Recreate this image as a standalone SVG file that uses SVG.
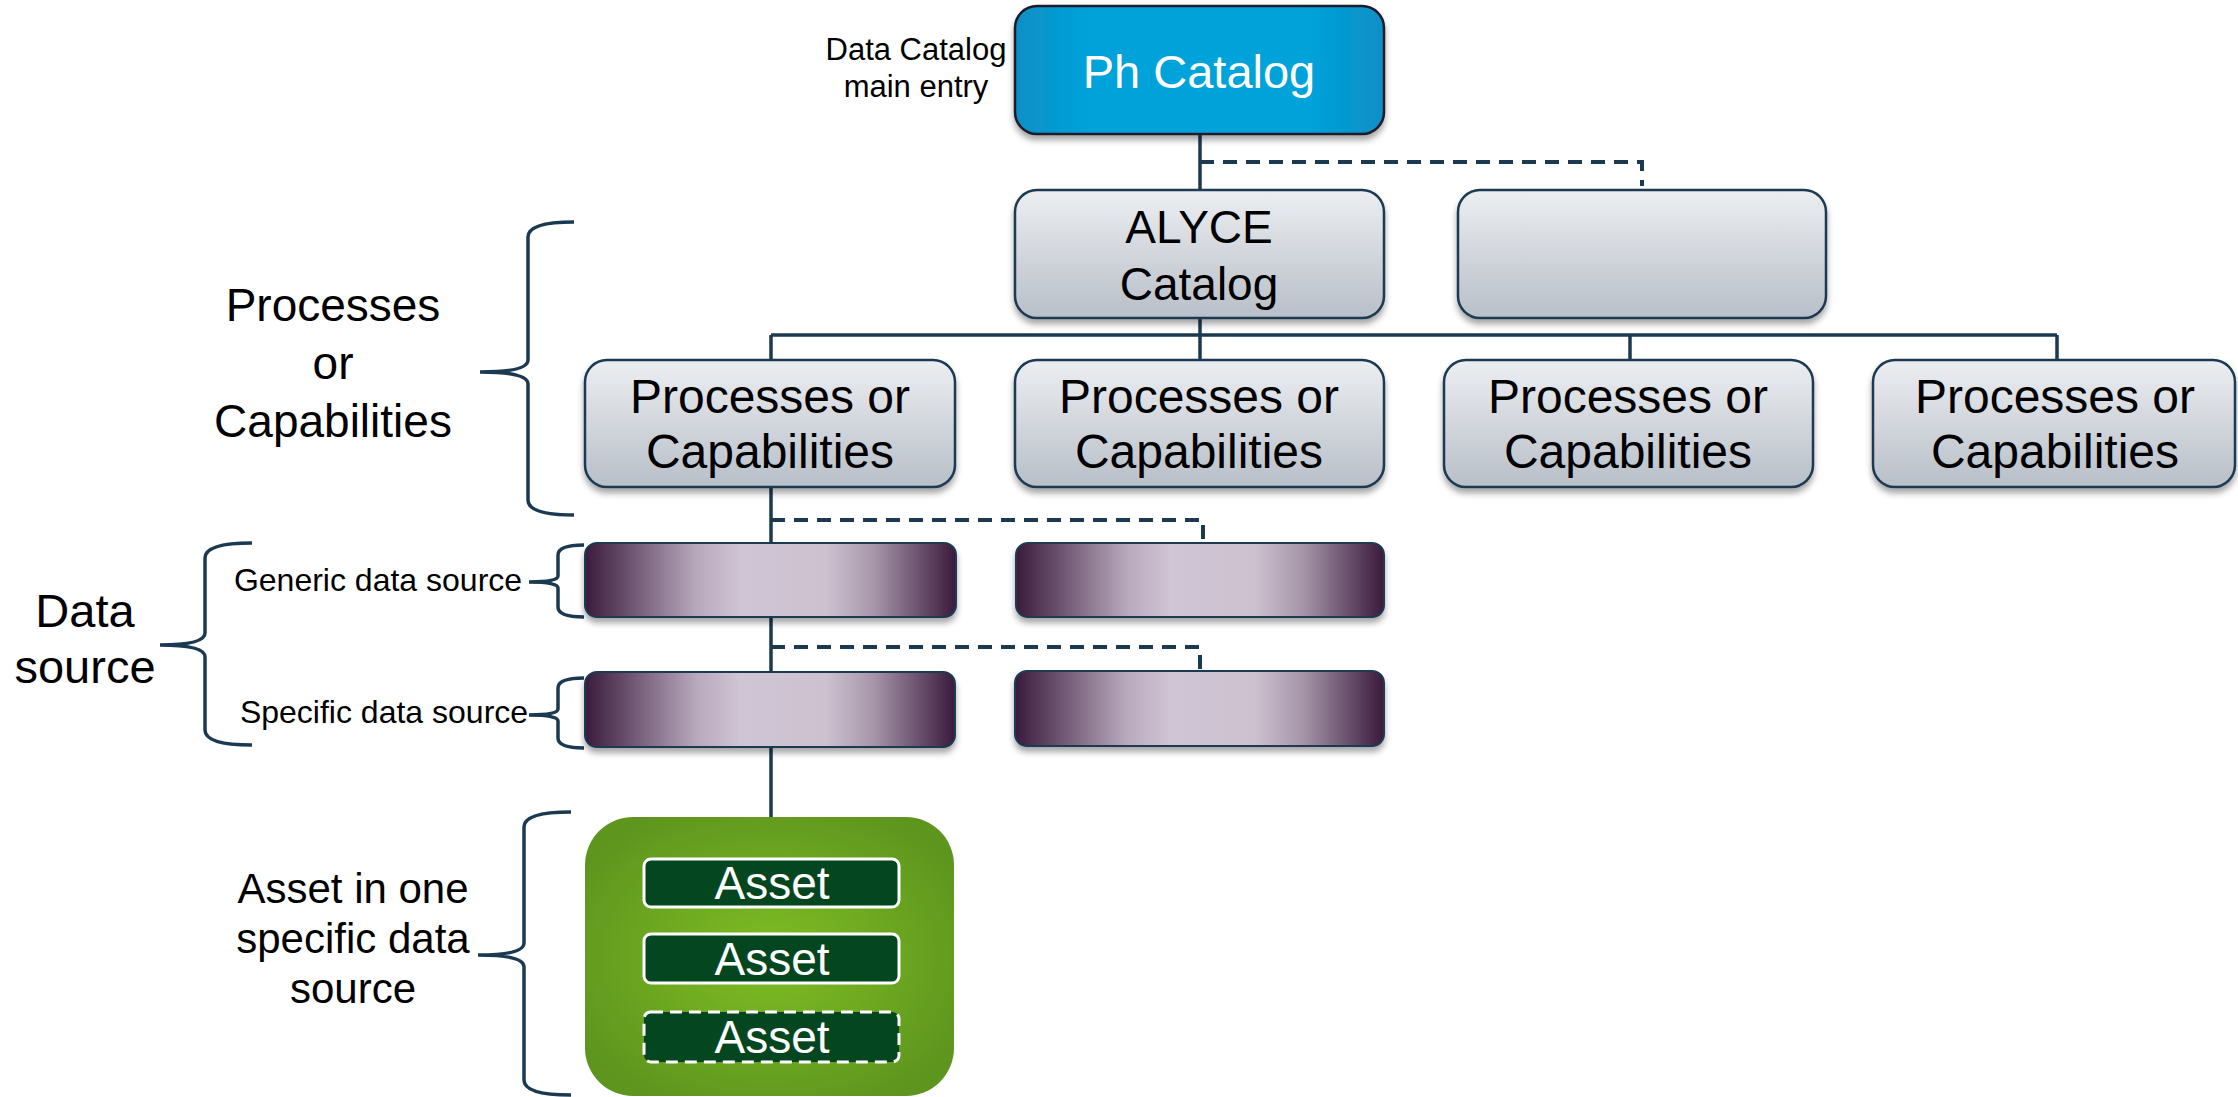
<svg xmlns="http://www.w3.org/2000/svg" width="2238" height="1097" viewBox="0 0 2238 1097">
<defs>
<linearGradient id="gGray" x1="0" y1="0" x2="0" y2="1"><stop offset="0" stop-color="#eceef1"/><stop offset="1" stop-color="#b8bfc8"/></linearGradient>
<linearGradient id="gBlue" x1="0" y1="0" x2="1" y2="0"><stop offset="0" stop-color="#0a8fc6"/><stop offset="0.2" stop-color="#02a2da"/><stop offset="0.8" stop-color="#02a2da"/><stop offset="1" stop-color="#0a8fc6"/></linearGradient>
<linearGradient id="gPurple" x1="0" y1="0" x2="1" y2="0"><stop offset="0" stop-color="#3a1a3c"/><stop offset="0.3" stop-color="#b8a8bc"/><stop offset="0.42" stop-color="#d0c5d4"/><stop offset="0.65" stop-color="#cdc1d0"/><stop offset="0.78" stop-color="#a695a9"/><stop offset="1" stop-color="#3a1a3c"/></linearGradient>
<radialGradient id="gGreen" cx="0.5" cy="0.5" r="0.6"><stop offset="0" stop-color="#7fbd23"/><stop offset="1" stop-color="#5d951e"/></radialGradient>
<filter id="sh" x="-10%" y="-10%" width="120%" height="130%"><feDropShadow dx="0" dy="5" stdDeviation="3" flood-color="#000" flood-opacity="0.35"/></filter>
</defs>
<style>
text{font-family:"Liberation Sans",Arial,sans-serif;text-anchor:middle;fill:#000}
.gray{fill:url(#gGray);stroke:#1b3a52;stroke-width:2.5}
.ds{fill:url(#gPurple);stroke:#1b3a52;stroke-width:2}
.ln{fill:none;stroke:#1b3a52;stroke-width:3.5}
.dash{fill:none;stroke:#1b3a52;stroke-width:4;stroke-dasharray:14 9}
.br{fill:none;stroke:#1b3a52;stroke-width:3.5}
.asset{fill:#03461f;stroke:#fff;stroke-width:3}
.w{fill:#fff}
</style>

<g id="connectors">
<path class="ln" d="M1200,134 V190"/>
<path class="dash" d="M1200,162 H1642 V186"/>
<path class="ln" d="M1200,318 V335 M771,335 H2057 M771,335 V360 M1200,335 V360 M1630,335 V360 M2057,335 V360"/>
<path class="ln" d="M771,487 V543"/>
<path class="dash" d="M771,520 H1203 V542"/>
<path class="ln" d="M771,617 V672"/>
<path class="dash" d="M771,647 H1200 V670"/>
<path class="ln" d="M771,747 V817"/>
</g>

<g id="braces">
<path class="br" d="M574,222 Q528,222 528,237 V360 Q528,372 480,372 Q528,372 528,384 V500 Q528,515 574,515"/>
<path class="br" d="M252,543 Q205,543 205,558 V633 Q205,645 160,645 Q205,645 205,657 V730 Q205,745 252,745"/>
<path class="br" d="M584,545 Q558,545 558,555 V576 Q558,582 529,582 Q558,582 558,588 V607 Q558,617 584,617"/>
<path class="br" d="M584,678 Q558,678 558,688 V709 Q558,715 529,715 Q558,715 558,721 V738 Q558,748 584,748"/>
<path class="br" d="M571,812 Q524,812 524,827 V943 Q524,955 478,955 Q524,955 524,967 V1080 Q524,1095 571,1095"/>
</g>

<g id="label-main-entry"><text x="916" y="60" font-size="31">Data Catalog</text><text x="916" y="97" font-size="31">main entry</text></g>
<g id="label-pc"><text x="333" y="321" font-size="46">Processes</text><text x="333" y="379" font-size="46">or</text><text x="333" y="437" font-size="46">Capabilities</text></g>
<g id="label-ds"><text x="85" y="627" font-size="47">Data</text><text x="85" y="683" font-size="47">source</text></g>
<g id="label-generic"><text x="378" y="591" font-size="32">Generic data source</text></g>
<g id="label-specific"><text x="384" y="723" font-size="32">Specific data source</text></g>
<g id="label-asset"><text x="353" y="903" font-size="42">Asset in one</text><text x="353" y="953" font-size="42">specific data</text><text x="353" y="1003" font-size="42">source</text></g>

<g id="ph-catalog"><rect x="1015" y="6" width="369" height="128" rx="22" fill="url(#gBlue)" stroke="#1a1f2a" stroke-width="2.5" filter="url(#sh)"/><text class="w" x="1199" y="88" font-size="47">Ph Catalog</text></g>
<g id="alyce-catalog"><rect class="gray" x="1015" y="190" width="369" height="128" rx="22" filter="url(#sh)"/><text x="1199" y="243" font-size="46">ALYCE</text><text x="1199" y="300" font-size="46">Catalog</text></g>
<g id="empty-catalog"><rect class="gray" x="1458" y="190" width="368" height="128" rx="22" filter="url(#sh)"/></g>

<g id="pc1"><rect class="gray" x="585" y="360" width="370" height="127" rx="22" filter="url(#sh)"/><text x="770" y="413" font-size="48">Processes or</text><text x="770" y="468" font-size="48">Capabilities</text></g>
<g id="pc2"><rect class="gray" x="1015" y="360" width="369" height="127" rx="22" filter="url(#sh)"/><text x="1199" y="413" font-size="48">Processes or</text><text x="1199" y="468" font-size="48">Capabilities</text></g>
<g id="pc3"><rect class="gray" x="1444" y="360" width="369" height="127" rx="22" filter="url(#sh)"/><text x="1628" y="413" font-size="48">Processes or</text><text x="1628" y="468" font-size="48">Capabilities</text></g>
<g id="pc4"><rect class="gray" x="1873" y="360" width="362" height="127" rx="22" filter="url(#sh)"/><text x="2055" y="413" font-size="48">Processes or</text><text x="2055" y="468" font-size="48">Capabilities</text></g>

<g id="generic1"><rect class="ds" x="585" y="543" width="371" height="74" rx="12" filter="url(#sh)"/></g>
<g id="generic2"><rect class="ds" x="1016" y="543" width="368" height="74" rx="12" filter="url(#sh)"/></g>
<g id="specific1"><rect class="ds" x="585" y="672" width="370" height="75" rx="12" filter="url(#sh)"/></g>
<g id="specific2"><rect class="ds" x="1015" y="671" width="369" height="75" rx="12" filter="url(#sh)"/></g>

<g id="asset-container"><rect x="585" y="817" width="369" height="279" rx="48" fill="url(#gGreen)"/></g>
<g id="asset1"><rect class="asset" x="644" y="859" width="255" height="48" rx="7"/><text class="w" x="772" y="899" font-size="46">Asset</text></g>
<g id="asset2"><rect class="asset" x="644" y="934" width="255" height="49" rx="7"/><text class="w" x="772" y="975" font-size="46">Asset</text></g>
<g id="asset3"><rect class="asset" x="644" y="1012" width="255" height="50" rx="7" stroke-dasharray="12 7"/><text class="w" x="772" y="1053" font-size="46">Asset</text></g>
</svg>
